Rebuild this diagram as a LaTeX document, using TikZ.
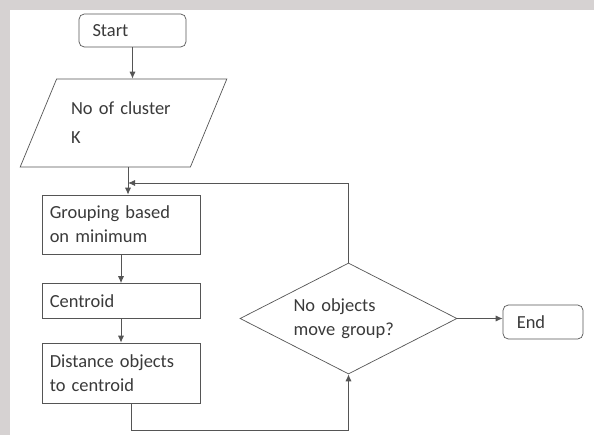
\documentclass[tikz,border=0pt]{standalone}
\usepackage{fontspec}
\setmainfont{Carlito}
\usetikzlibrary{shapes.geometric,arrows.meta}
\definecolor{linegray}{HTML}{555555}
\definecolor{textgray}{HTML}{3A3A3A}
\definecolor{framegray}{HTML}{D6D2D2}
\tikzset{
  flowbox/.style={draw=linegray, rectangle, align=left, text=textgray, font=\fontsize{10.5}{13.6}\selectfont},
  termbox/.style={flowbox, rounded corners=3pt},
  flowline/.style={draw=linegray, line width=0.5pt},
}
\begin{document}
\begin{tikzpicture}[x=0.02cm, y=-0.02cm, >={Latex[length=4pt,width=3.5pt]}]
  % Page frame
  \fill[framegray] (0,0) rectangle (594,435);
  \fill[white] (10,10) rectangle (594,435);
  \useasboundingbox (0,0) rectangle (594,435);
  % Start / input
  \node[termbox, minimum width=2.14cm, minimum height=0.66cm, text width=1.6cm] (start) at (132.5,30.5) {Start};
  \node[flowbox, trapezium, trapezium left angle=59.4, trapezium right angle=120.6, trapezium stretches=true,
        minimum width=4.14cm, minimum height=1.76cm, text width=2.1cm] (input) at (123.5,123) {No of cluster\\[3pt]K};
  % Main column
  \node[flowbox, minimum width=3.16cm, minimum height=1.18cm, text width=2.85cm] (group) at (121,224.5) {Grouping based\\on minimum};
  \node[flowbox, minimum width=3.16cm, minimum height=0.7cm, text width=2.85cm] (centroid) at (121,301) {Centroid};
  \node[flowbox, minimum width=3.16cm, minimum height=1.2cm, text width=2.85cm] (dist) at (121,373) {Distance objects\\to centroid};
  % Decision and end
  \node[flowbox, diamond, aspect=1.95, minimum width=4.34cm, minimum height=2.22cm, inner sep=0pt, text width=2.2cm] (decide) at (348.5,318.5) {No objects\\move group?};
  \node[termbox, minimum width=1.6cm, minimum height=0.68cm, text width=1.05cm] (end) at (543,322) {End};
  \coordinate (join) at (128,183);
  % Connectors
  \draw[flowline, ->] (start) -- (start |- input.north);
  \draw[flowline, ->] (input.south -| 128,0) -- (group.north -| 128,0);
  \draw[flowline, ->] (group) -- (centroid);
  \draw[flowline, ->] (centroid) -- (dist);
  \draw[flowline, ->] (dist.south -| 131,0) -- (131,430) -| (decide.south);
  \draw[flowline, ->] (decide.north) |- (join);
  \draw[flowline, ->] (decide.east) -- (end.west |- decide.east);
\end{tikzpicture}
\end{document}
